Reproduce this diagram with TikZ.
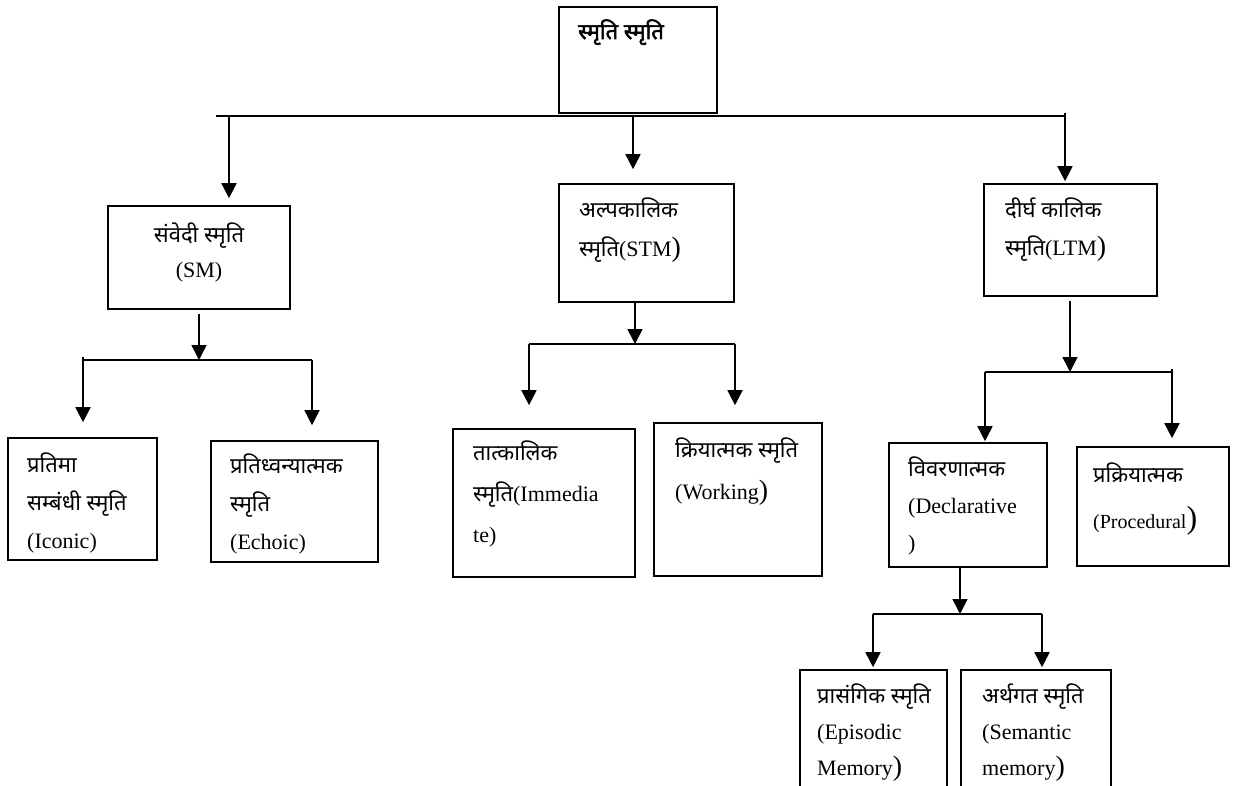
\documentclass[tikz,border=0pt]{standalone}
\usepackage{fontspec}
\setmainfont{Liberation Serif}
\newfontfamily\devfont[Script=Devanagari]{Noto Sans}
\newfontfamily\devfontbold[Script=Devanagari,FakeBold=2.5]{Noto Sans}
\usetikzlibrary{arrows.meta}
\newcommand{\dv}[1]{{\devfont #1}}
\newcommand{\bigp}{{\fontsize{28}{30}\selectfont)}}
\tikzset{
  %box round each kind of memory
  memBox/.style = {draw=black, line width=1.6pt, inner sep=0pt},
  %text set inside a box (placed by the baseline of its last line)
  memText/.style = {align=left, inner sep=0pt, anchor=base west,
    font=\fontsize{22}{#1}\selectfont},
  memText/.default = 38,
  %horizontal joining line
  busLine/.style = {line width=1.6pt},
  %arrow down to a box
  downArrow/.style = {->, line width=1.6pt}
}

\begin{document}
\begin{tikzpicture}[x=1pt,y=-1pt,>={Triangle[length=15pt,width=15pt]}]
\useasboundingbox (0,0) rectangle (1236,786);
\clip (0,0) rectangle (1236,786);

% boxes
\node [memBox, minimum width=158, minimum height=106] (smriti) at (638,60) {};
\node [memBox, minimum width=182, minimum height=103] (sm) at (199,257.5) {};
\node [memBox, minimum width=175, minimum height=118] (stm) at (646.5,243) {};
\node [memBox, minimum width=173, minimum height=112] (ltm) at (1070.5,240) {};
\node [memBox, minimum width=149, minimum height=122] (iconic) at (82.5,499) {};
\node [memBox, minimum width=167, minimum height=121] (echoic) at (294.5,501.5) {};
\node [memBox, minimum width=182, minimum height=148] (immediate) at (544,503) {};
\node [memBox, minimum width=168, minimum height=153] (working) at (738,499.5) {};
\node [memBox, minimum width=158, minimum height=124] (declarative) at (968,505) {};
\node [memBox, minimum width=152, minimum height=119] (procedural) at (1153,506.5) {};
\node [memBox, minimum width=147, minimum height=150] (episodic) at (873.5,745) {};
\node [memBox, minimum width=150, minimum height=150] (semantic) at (1036,745) {};

% texts
\node [memText] (smritiTxt) at (578,39) {\devfontbold स्मृति स्मृति};
\node [memText=35, anchor=base, align=center] (smTxt) at (199,277)
  {\dv{संवेदी स्मृति}\\(SM)};
\node [memText=39] (stmTxt) at (579,257) {\dv{अल्पकालिक}\\\dv{स्मृति}(STM\bigp};
\node [memText=39] (ltmTxt) at (1005,256) {\dv{दीर्घ कालिक}\\\dv{स्मृति}(LTM\bigp};
\node [memText] (iconicTxt) at (27,548)
  {\dv{प्रतिमा}\\\dv{सम्बंधी स्मृति}\\(Iconic)};
\node [memText] (echoicTxt) at (230,549)
  {\dv{प्रतिध्वन्यात्मक}\\\dv{स्मृति}\\(Echoic)};
\node [memText=41] (immediateTxt) at (473,542)
  {\dv{तात्कालिक}\\\dv{स्मृति}(Immedia\\te)};
\node [memText=42] (workingTxt) at (675,499)
  {\dv{क्रियात्मक स्मृति}\\(Working\bigp};
\node [memText=37] (declarativeTxt) at (908,550)
  {\dv{विवरणात्मक}\\(Declarative\\)};
\node [memText=46] (proceduralTxt) at (1093,528)
  {\dv{प्रक्रियात्मक}\\{\fontsize{20}{22}\selectfont(Procedural}{\fontsize{32}{34}\selectfont)}};
\node [memText=36] (episodicTxt) at (817,775)
  {\dv{प्रासंगिक स्मृति}\\(Episodic\\Memory\bigp};
\node [memText=36] (semanticTxt) at (982,775)
  {\dv{अर्थगत स्मृति}\\(Semantic\\memory\bigp};

% first level
\coordinate (busA-w) at (216,116);
\coordinate (busA-e) at (1065,116);
\coordinate (toSm) at (229,116);
\coordinate (toStm) at (633,116);
\draw [busLine] (busA-w) -- (busA-e);
\draw [downArrow, shorten >=7pt] (toSm) -- (toSm |- sm.north);
\draw [downArrow, shorten >=14pt] (toStm) -- (toStm |- stm.north);
\draw [downArrow, shorten >=2pt] ([yshift=3pt]busA-e) -- (busA-e |- ltm.north);

% below SM
\coordinate (busB-w) at (83,360);
\coordinate (busB-e) at (312,360);
\draw [downArrow, shorten <=4pt] (sm.south) -- (sm.south |- busB-w);
\draw [busLine] (busB-w) -- (busB-e);
\draw [downArrow, shorten >=15pt] ([yshift=3pt]busB-w) -- (busB-w |- iconic.north);
\draw [downArrow, shorten >=15pt] (busB-e) -- (busB-e |- echoic.north);

% below STM
\coordinate (busC-w) at (529,344);
\coordinate (busC-e) at (735,344);
\coordinate (fromStm) at (635,344);
\draw [downArrow] (fromStm |- stm.south) -- (fromStm);
\draw [busLine] (busC-w) -- (busC-e);
\draw [downArrow, shorten >=23pt] (busC-w) -- (busC-w |- immediate.north);
\draw [downArrow, shorten >=17pt] (busC-e) -- (busC-e |- working.north);

% below LTM
\coordinate (busD-w) at (985,372);
\coordinate (busD-e) at (1172,372);
\coordinate (fromLtm) at (1070,372);
\draw [downArrow, shorten <=4pt] (fromLtm |- ltm.south) -- (fromLtm);
\draw [busLine] (busD-w) -- (busD-e);
\draw [downArrow, shorten >=1pt] (busD-w) -- (busD-w |- declarative.north);
\draw [downArrow, shorten >=8pt] ([yshift=3pt]busD-e) -- (busD-e |- procedural.north);

% below declarative
\coordinate (busE-w) at (873,614);
\coordinate (busE-e) at (1042,614);
\coordinate (fromDecl) at (960,614);
\draw [downArrow] (fromDecl |- declarative.south) -- (fromDecl);
\draw [busLine] (busE-w) -- (busE-e);
\draw [downArrow, shorten >=2pt] (busE-w) -- (busE-w |- episodic.north);
\draw [downArrow, shorten >=2pt] (busE-e) -- (busE-e |- semantic.north);
\end{tikzpicture}
\end{document}
